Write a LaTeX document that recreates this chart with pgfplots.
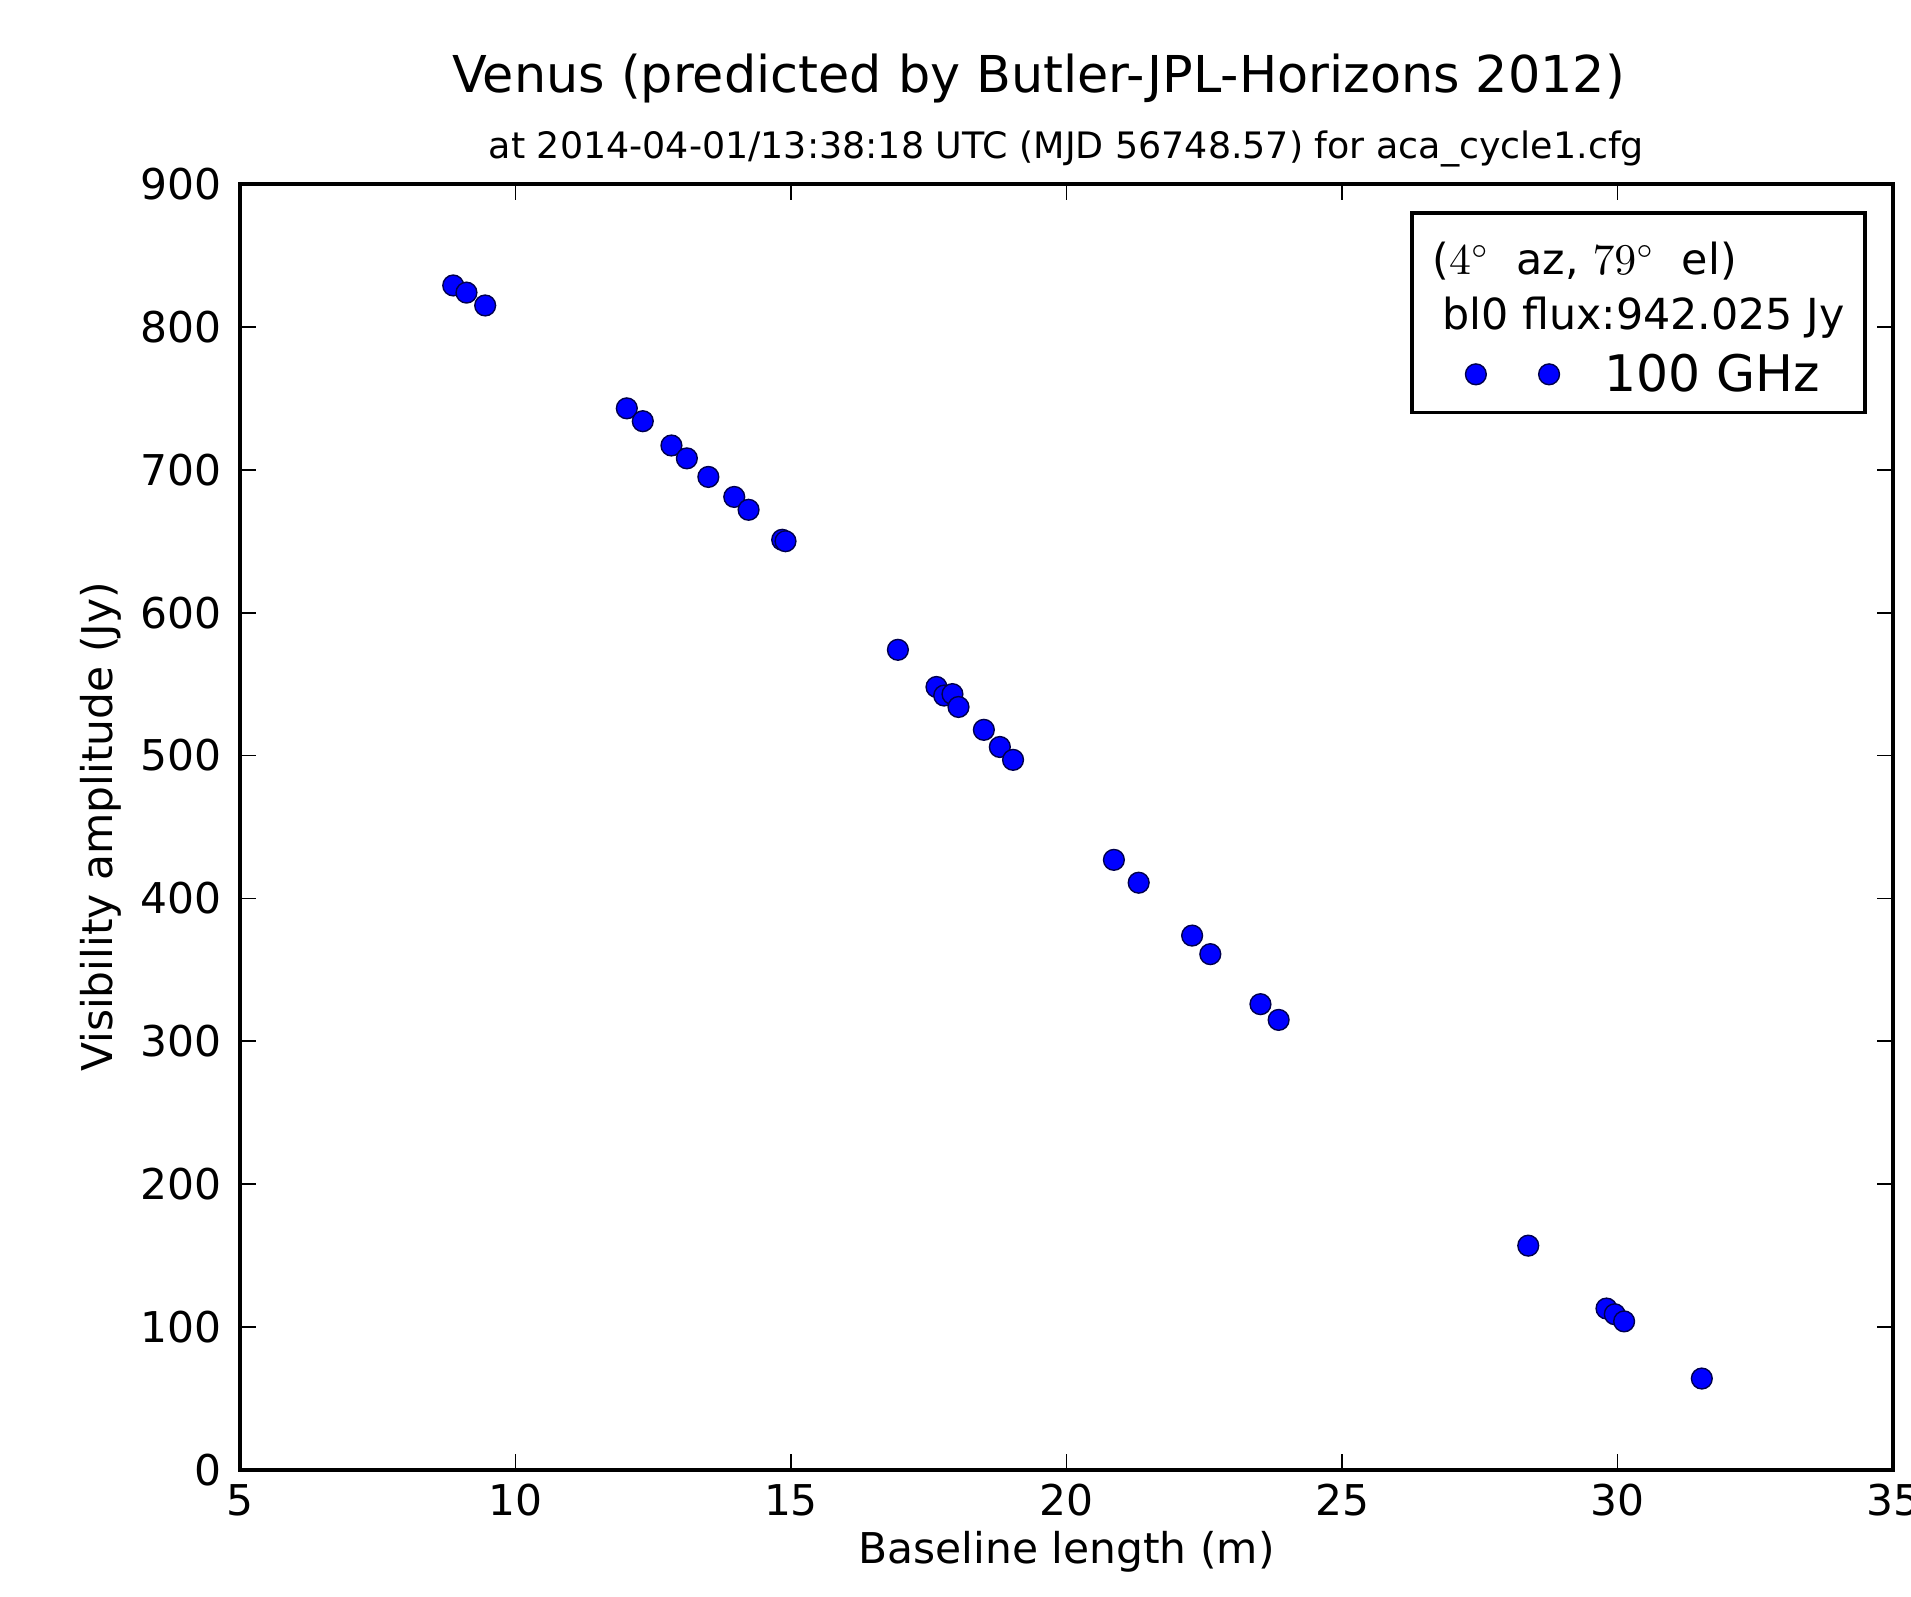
\documentclass[border=0pt]{standalone}
\usepackage{fontspec}
\setmainfont{DejaVu Sans}
\usepackage{pgfplots}
\pgfplotsset{compat=1.18}

% visibility amplitude vs baseline length
\pgfplotstableread{
x      y
8.87   829
9.11   824
9.45   815
12.02  743
12.31  734
12.83  717
13.11  708
13.50  695
13.97  681
14.23  672
14.84  651
14.90  650
16.94  574
17.64  548
17.78  542
17.93  543
18.04  534
18.50  518
18.79  506
19.03  497
20.86  427
21.31  411
22.28  374
22.61  361
23.52  326
23.85  315
28.38  157
29.80  113
29.95  109
30.12  104
31.53  64
}\venus

\begin{document}
\begin{tikzpicture}
\begin{axis}[
    name=ax,
    width=413.25pt, height=321.5pt,
    scale only axis,
    xmin=5, xmax=35, ymin=0, ymax=900,
    xtick={5,10,...,35}, ytick={0,100,...,900},
    axis line style={line width=1pt},
    tick style={black, line width=0.45pt},
    major tick length=4pt,
    tick align=inside,
    xtick pos=both, ytick pos=both,
    tick label style={font=\fontsize{10.6}{12}\selectfont},
    /pgf/number format/assume math mode=true,
    xticklabel style={yshift=0pt},
    yticklabel style={xshift=-1pt},
    label style={font=\fontsize{10.6}{12}\selectfont},
    xlabel={Baseline length (m)},
    ylabel={Visibility amplitude (Jy)},
    xlabel style={yshift=3pt},
    ylabel style={yshift=-2pt},
    title={{\fontsize{12.7}{15}\selectfont \hspace*{-14pt}Venus (predicted by Butler-JPL-Horizons 2012)}\\[4.4pt]
           {\fontsize{9.1}{10}\selectfont at 2014-04-01/13:38:18 UTC (MJD 56748.57) for aca\_cycle1.cfg}},
    title style={align=center, yshift=-5.2pt},
    legend style={at={(rel axis cs:0.984,0.979)}, anchor=north east,
        draw=black, line width=0.9pt, fill=white,
        inner xsep=3pt, inner ysep=1.8pt, row sep=0pt,
        font=\fontsize{10.7}{12}\selectfont,
        cells={anchor=west}},
    legend cell align=left,
]
\addlegendimage{empty legend}
\addlegendentry{\hspace*{-43pt}\rule{0pt}{11.7pt}($4^\circ$\ \ az, $79^\circ$\ \ el)}
\addlegendimage{empty legend}
\addlegendentry{\hspace*{-40.5pt}bl0 flux:942.025 Jy}
\addplot[only marks, mark=*, mark size=2.6pt,
    mark options={fill=blue, draw=black!70!blue, line width=0.35pt},
    legend image code/.code={
        \path (-12.5pt,0pt) (29.7pt,0pt);
        \fill[blue, draw=black!70!blue, line width=0.35pt] (0pt,0pt) circle (2.6pt);
        \fill[blue, draw=black!70!blue, line width=0.35pt] (18.3pt,0pt) circle (2.6pt);
    }]
    table[x=x, y=y] {\venus};
\addlegendentry{\fontsize{12.6}{15}\selectfont\rule{0pt}{10pt}100 GHz}
\end{axis}
\pgfresetboundingbox
\useasboundingbox ([xshift=-60pt, yshift=-31.75pt]ax.south west) rectangle ([xshift=4.5pt, yshift=46pt]ax.north east);
\end{tikzpicture}
\end{document}
